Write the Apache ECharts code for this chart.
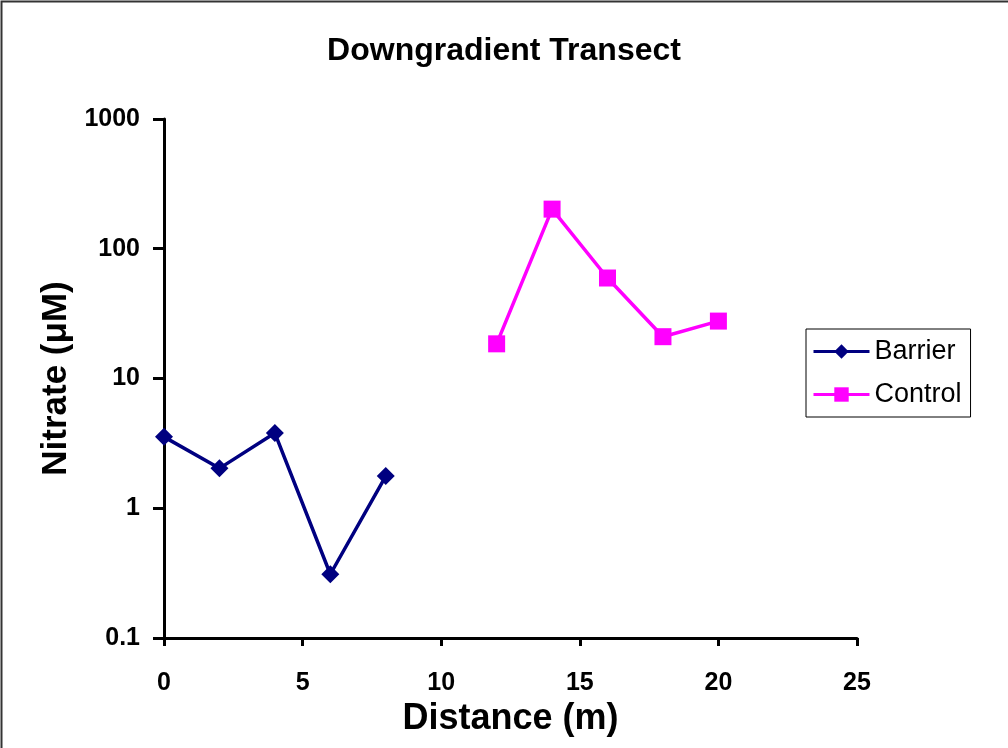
<!DOCTYPE html>
<html>
<head>
<meta charset="UTF-8">
<title>Downgradient Transect</title>
<style>
  html, body { margin: 0; padding: 0; background: #fff; }
  #box { width: 1008px; height: 748px; }
</style>
</head>
<body>
<div id="box"></div>
<script src="https://cdn.jsdelivr.net/npm/echarts@6/dist/echarts.min.js"></script>
<script>
// data
var barrierX = [0, 2, 4, 6, 8];
var barrierY = [3.55, 2.03, 3.8, 0.31, 1.77];
var controlX = [12, 14, 16, 18, 20];
var controlY = [18.5, 202, 59.5, 21, 27.7];

function pairs(xs, ys) {
  return xs.map(function (x, i) { return [x, ys[i]]; });
}

var chart = echarts.init(document.getElementById('box'));
var font = 'Liberation Sans, Arial, sans-serif';

var option = {
  animation: false,
  backgroundColor: '#fff',
  graphic: [{
    type: 'rect',
    shape: { x: 1.5, y: 1.5, width: 1020, height: 760 },
    style: { fill: 'none', stroke: '#333', lineWidth: 2 },
    silent: true
  }],
  title: {
    text: 'Downgradient Transect',
    left: 'center',
    top: 30,
    textStyle: { fontFamily: font, fontSize: 32, fontWeight: 'bold', color: '#000' }
  },
  legend: {
    orient: 'vertical',
    left: 806,
    top: 329,
    padding: [9, 9, 9, 6],
    itemGap: 16,
    itemWidth: 56,
    itemHeight: 18,
    borderColor: '#000',
    borderWidth: 1,
    lineStyle: { width: 3 },
    textStyle: { fontFamily: font, fontSize: 27, color: '#000' },
    data: ['Barrier', 'Control']
  },
  grid: { left: 164, right: 151, top: 119, bottom: 110 },
  xAxis: {
    type: 'value',
    min: 0, max: 25, interval: 5,
    name: 'Distance (m)',
    nameLocation: 'middle',
    nameGap: 63,
    nameTextStyle: { fontFamily: font, fontSize: 36, fontWeight: 'bold', color: '#000' },
    axisLine: { lineStyle: { color: '#000', width: 3 } },
    axisTick: { show: true, inside: false, length: 8, lineStyle: { width: 3, color: '#000' } },
    axisLabel: { fontFamily: font, fontSize: 25, fontWeight: 'bold', color: '#000', margin: 33 },
    splitLine: { show: false }
  },
  yAxis: {
    type: 'log',
    logBase: 10,
    min: 0.1, max: 1000,
    name: 'Nitrate (μM)',
    nameLocation: 'middle',
    nameGap: 90,
    nameTextStyle: { fontFamily: font, fontSize: 35, fontWeight: 'bold', color: '#000' },
    axisLine: { show: true, lineStyle: { color: '#000', width: 3 } },
    axisTick: { show: true, inside: false, length: 11, lineStyle: { width: 3, color: '#000' } },
    axisLabel: {
      fontFamily: font, fontSize: 25, fontWeight: 'bold', color: '#000', margin: 24,
      formatter: function (v) { return String(v); }
    },
    splitLine: { show: false },
    minorTick: { show: false }
  },
  series: [{
    name: 'Barrier',
    type: 'line',
    data: pairs(barrierX, barrierY),
    symbol: 'diamond',
    symbolSize: 18,
    lineStyle: { color: '#000080', width: 3.5 },
    itemStyle: { color: '#000080' }
  }, {
    name: 'Control',
    type: 'line',
    data: pairs(controlX, controlY),
    symbol: 'rect',
    symbolSize: 17,
    lineStyle: { color: '#ff00ff', width: 3.5 },
    itemStyle: { color: '#ff00ff' }
  }]
};

chart.setOption(option);
</script>
</body>
</html>
